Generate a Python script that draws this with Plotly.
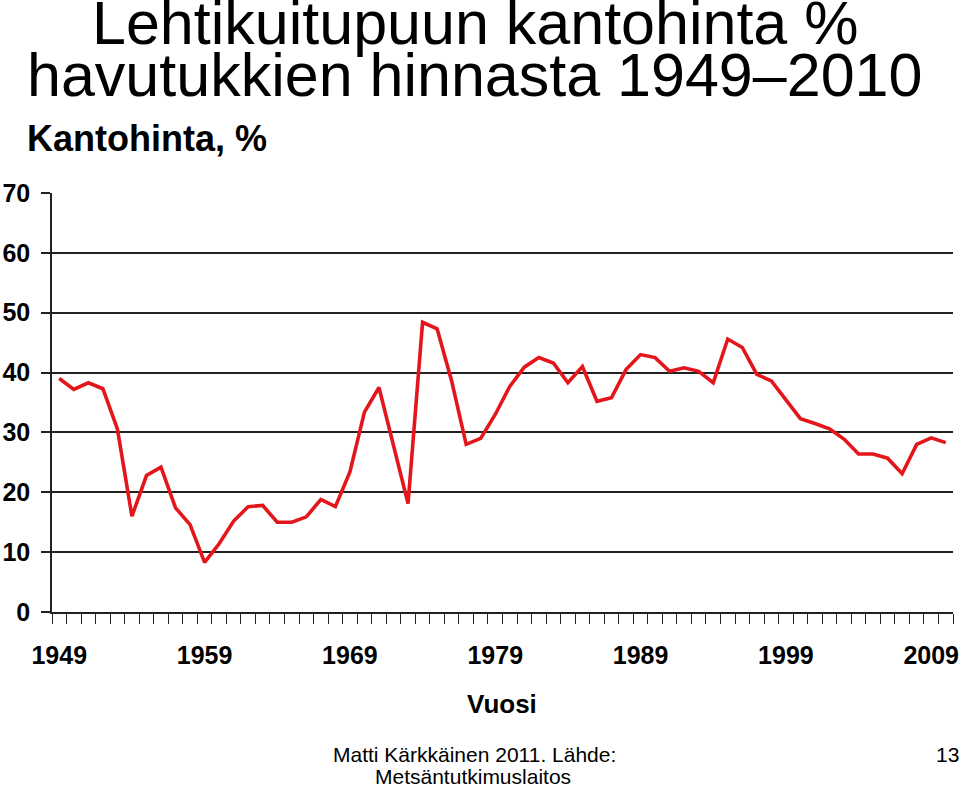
import plotly.graph_objects as go

years = list(range(1949, 2011))
kantohinta = [
    39.0, 37.2, 38.3, 37.3, 30.6, 16.0, 22.8, 24.2, 17.4, 14.6,
    8.3, 11.4, 15.2, 17.6, 17.8, 15.0, 15.0, 15.9, 18.8, 17.6,
    23.4, 33.4, 37.5, 28.0, 18.1, 48.4, 47.3, 38.6, 28.0, 29.0,
    33.0, 37.7, 40.9, 42.5, 41.6, 38.3, 41.0, 35.2, 35.8, 40.5,
    43.0, 42.5, 40.2, 40.8, 40.2, 38.3, 45.6, 44.2, 39.7, 38.6,
    35.4, 32.3, 31.5, 30.6, 28.9, 26.4, 26.4, 25.7, 23.1, 28.0,
    29.1, 28.3,
]
label_years = [1949, 1959, 1969, 1979, 1989, 1999, 2009]
y_ticks = [0, 10, 20, 30, 40, 50, 60, 70]

FONT = "Liberation Sans, Arial, sans-serif"
W, H = 960, 789
L, R, T, B = 52, 7, 193, 177
PW, PH = W - L - R, H - T - B


def px(x):
    return (x - L) / PW


def py(y):
    return (H - B - y) / PH


fig = go.Figure()
fig.add_trace(go.Scatter(
    x=years, y=kantohinta, mode="lines",
    line=dict(color="#E3161C", width=3.6),
    hoverinfo="x+y", showlegend=False,
))

fig.update_layout(
    width=W, height=H,
    margin=dict(l=L, r=R, t=T, b=B, autoexpand=False),
    paper_bgcolor="white", plot_bgcolor="white",
    font=dict(family=FONT, color="black"),
    xaxis=dict(
        range=[1948.5, 2010.5], automargin=False,
        tickmode="array", tickvals=label_years,
        ticktext=[str(v) for v in label_years],
        ticks="", showgrid=False, zeroline=False,
        showline=True, linecolor="#222", linewidth=1.5,
        tickfont=dict(family=FONT, size=25, weight="bold", color="black"),
        ticklabelstandoff=20,
        minor=dict(tickmode="linear", tick0=1948.5, dtick=1,
                   ticks="outside", ticklen=10, tickcolor="#222",
                   tickwidth=1.3, showgrid=False),
        fixedrange=True,
    ),
    yaxis=dict(
        range=[0, 70], tickmode="array", tickvals=y_ticks, automargin=False,
        ticks="outside", ticklen=9, tickcolor="#222", tickwidth=1.5,
        showgrid=True, gridcolor="#222", gridwidth=1.5,
        zeroline=False, showline=True, linecolor="#222", linewidth=1.5,
        tickfont=dict(family=FONT, size=25, weight="bold", color="black"),
        ticklabelstandoff=6,
        fixedrange=True,
    ),
)


def ann(text, x, y_center, size, bold=False, xanchor="center"):
    fig.add_annotation(
        text=text, xref="paper", yref="paper", x=px(x), y=py(y_center),
        xanchor=xanchor, yanchor="middle", showarrow=False,
        font=dict(family=FONT, size=size, color="black",
                  weight="bold" if bold else "normal"),
    )


def base_to_center(baseline, size):
    return baseline - 0.3465 * size


ann("Lehtikuitupuun kantohinta %", 475, base_to_center(44.5, 61), 61)
ann("havutukkien hinnasta 1949\u20132010", 474, base_to_center(96.5, 61), 61)
ann("Kantohinta, %", 25, base_to_center(151, 36), 36, bold=True, xanchor="left")
ann("Vuosi", 502, base_to_center(713.3, 26), 26, bold=True)
ann("Matti Kärkkäinen 2011. Lähde:", 474, base_to_center(761.7, 21), 21)
ann("Metsäntutkimuslaitos", 473, base_to_center(783.5, 21), 21)
ann("13", 947, base_to_center(761.7, 21), 21)

fig.write_html("out.html", include_plotlyjs=True, config={"displayModeBar": False})
